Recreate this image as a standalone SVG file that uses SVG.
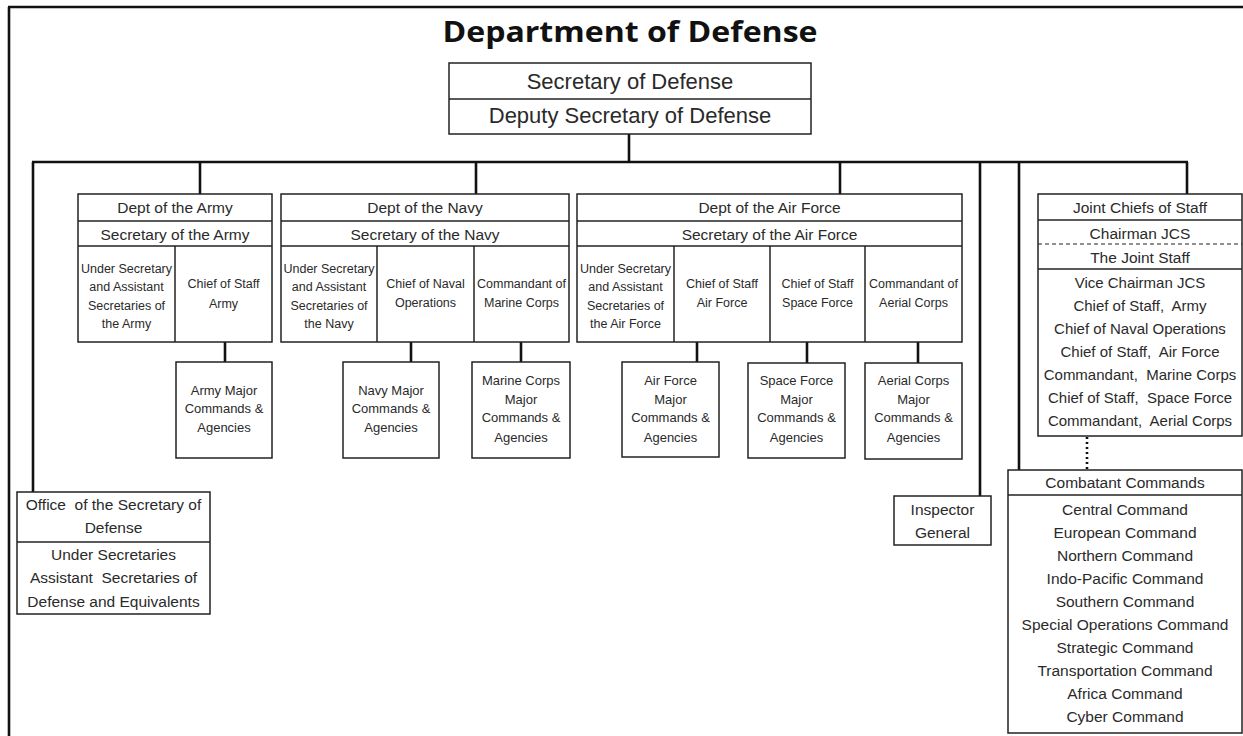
<svg xmlns="http://www.w3.org/2000/svg" width="1243" height="736" viewBox="0 0 1243 736">
<style>
  text { font-family: "Liberation Sans", Arial, sans-serif; fill: #2a2a2a; text-anchor: middle; white-space: pre; }
  .title { font-family: "Open Sans", "Liberation Sans", sans-serif; font-weight: 700; font-size: 29px; fill: #111; }
  .big { font-size: 22px; }
  .hd { font-size: 15.5px; }
  .sm { font-size: 12.5px; }
  .mc { font-size: 13px; }
  .ls { font-size: 15.5px; }
  .jl { font-size: 15px; }
  .box { fill: #fff; stroke: #222; stroke-width: 1.5; }
  .div { stroke: #222; stroke-width: 1.5; fill: none; }
  .dash { stroke: #222; stroke-width: 1.2; stroke-dasharray: 4 3; fill: none; }
  .con { stroke: #111; stroke-width: 2.6; fill: none; }
  .dot { stroke: #111; stroke-width: 2.6; stroke-dasharray: 2 3; fill: none; }
</style>
<rect x="0" y="0" width="1243" height="736" fill="#fff"/>
<g id="frame">
  <line x1="8" y1="7" x2="1243" y2="7" class="con"/>
  <line x1="9" y1="7" x2="9" y2="736" class="con"/>
</g>
<text class="title" x="630" y="42" textLength="375" lengthAdjust="spacingAndGlyphs">Department of Defense</text>

<g id="connectors">
  <line x1="629" y1="134" x2="629" y2="162" class="con"/>
  <line x1="32" y1="162" x2="1188" y2="162" class="con"/>
  <line x1="33" y1="162" x2="33" y2="492" class="con"/>
  <line x1="200" y1="162" x2="200" y2="194" class="con"/>
  <line x1="476" y1="162" x2="476" y2="194" class="con"/>
  <line x1="840" y1="162" x2="840" y2="194" class="con"/>
  <line x1="980" y1="162" x2="980" y2="496" class="con"/>
  <line x1="1019" y1="162" x2="1019" y2="470" class="con"/>
  <line x1="1187" y1="162" x2="1187" y2="194" class="con"/>
  <line x1="225" y1="342" x2="225" y2="362" class="con"/>
  <line x1="411" y1="342" x2="411" y2="362" class="con"/>
  <line x1="521" y1="342" x2="521" y2="362" class="con"/>
  <line x1="697" y1="342" x2="697" y2="362" class="con"/>
  <line x1="807" y1="342" x2="807" y2="363" class="con"/>
  <line x1="918" y1="342" x2="918" y2="363" class="con"/>
  <line x1="1087" y1="437" x2="1087" y2="470" class="dot"/>
</g>

<g id="secdef">
  <rect x="449" y="63" width="362" height="71" class="box"/>
  <line x1="449" y1="99" x2="811" y2="99" class="div"/>
  <text class="big" x="630" y="89">Secretary of Defense</text>
  <text class="big" x="630" y="123">Deputy Secretary of Defense</text>
</g>

<g id="army">
  <rect x="78" y="194" width="194" height="148" class="box"/>
  <line x1="78" y1="221" x2="272" y2="221" class="div"/>
  <line x1="78" y1="246" x2="272" y2="246" class="div"/>
  <line x1="175" y1="246" x2="175" y2="342" class="div"/>
  <text class="hd" x="175" y="213">Dept of the Army</text>
  <text class="hd" x="175" y="240">Secretary of the Army</text>
  <text class="sm" x="126.5" y="273">Under Secretary</text>
  <text class="sm" x="126.5" y="291">and Assistant</text>
  <text class="sm" x="126.5" y="310">Secretaries of</text>
  <text class="sm" x="126.5" y="328">the Army</text>
  <text class="sm" x="223.5" y="288">Chief of Staff</text>
  <text class="sm" x="223.5" y="308">Army</text>
</g>
<g id="army-major">
  <rect x="176" y="362" width="96" height="96" class="box"/>
  <text class="mc" x="224" y="395">Army Major</text>
  <text class="mc" x="224" y="413">Commands &amp;</text>
  <text class="mc" x="224" y="432">Agencies</text>
</g>

<g id="navy">
  <rect x="281" y="194" width="288" height="148" class="box"/>
  <line x1="281" y1="221" x2="569" y2="221" class="div"/>
  <line x1="281" y1="246" x2="569" y2="246" class="div"/>
  <line x1="377" y1="246" x2="377" y2="342" class="div"/>
  <line x1="474" y1="246" x2="474" y2="342" class="div"/>
  <text class="hd" x="425" y="213">Dept of the Navy</text>
  <text class="hd" x="425" y="240">Secretary of the Navy</text>
  <text class="sm" x="329" y="273">Under Secretary</text>
  <text class="sm" x="329" y="291">and Assistant</text>
  <text class="sm" x="329" y="310">Secretaries of</text>
  <text class="sm" x="329" y="328">the Navy</text>
  <text class="sm" x="425.5" y="288">Chief of Naval</text>
  <text class="sm" x="425.5" y="307">Operations</text>
  <text class="sm" x="521.5" y="288">Commandant of</text>
  <text class="sm" x="521.5" y="307">Marine Corps</text>
</g>
<g id="navy-major">
  <rect x="343" y="362" width="96" height="96" class="box"/>
  <text class="mc" x="391" y="395">Navy Major</text>
  <text class="mc" x="391" y="413">Commands &amp;</text>
  <text class="mc" x="391" y="432">Agencies</text>
</g>
<g id="marine-major">
  <rect x="472" y="362" width="98" height="96" class="box"/>
  <text class="mc" x="521" y="385">Marine Corps</text>
  <text class="mc" x="521" y="404">Major</text>
  <text class="mc" x="521" y="422">Commands &amp;</text>
  <text class="mc" x="521" y="442">Agencies</text>
</g>

<g id="airforce">
  <rect x="577" y="194" width="385" height="148" class="box"/>
  <line x1="577" y1="221" x2="962" y2="221" class="div"/>
  <line x1="577" y1="246" x2="962" y2="246" class="div"/>
  <line x1="674" y1="246" x2="674" y2="342" class="div"/>
  <line x1="770" y1="246" x2="770" y2="342" class="div"/>
  <line x1="865" y1="246" x2="865" y2="342" class="div"/>
  <text class="hd" x="769.5" y="213">Dept of the Air Force</text>
  <text class="hd" x="769.5" y="240">Secretary of the Air Force</text>
  <text class="sm" x="625.5" y="273">Under Secretary</text>
  <text class="sm" x="625.5" y="291">and Assistant</text>
  <text class="sm" x="625.5" y="310">Secretaries of</text>
  <text class="sm" x="625.5" y="328">the Air Force</text>
  <text class="sm" x="722" y="288">Chief of Staff</text>
  <text class="sm" x="722" y="307">Air Force</text>
  <text class="sm" x="817.5" y="288">Chief of Staff</text>
  <text class="sm" x="817.5" y="307">Space Force</text>
  <text class="sm" x="913.5" y="288">Commandant of</text>
  <text class="sm" x="913.5" y="307">Aerial Corps</text>
</g>
<g id="af-major">
  <rect x="622" y="362" width="97" height="95" class="box"/>
  <text class="mc" x="670.5" y="385">Air Force</text>
  <text class="mc" x="670.5" y="404">Major</text>
  <text class="mc" x="670.5" y="422">Commands &amp;</text>
  <text class="mc" x="670.5" y="442">Agencies</text>
</g>
<g id="sf-major">
  <rect x="748" y="363" width="97" height="95" class="box"/>
  <text class="mc" x="796.5" y="385">Space Force</text>
  <text class="mc" x="796.5" y="404">Major</text>
  <text class="mc" x="796.5" y="422">Commands &amp;</text>
  <text class="mc" x="796.5" y="442">Agencies</text>
</g>
<g id="aerial-major">
  <rect x="865" y="363" width="97" height="96" class="box"/>
  <text class="mc" x="913.5" y="385">Aerial Corps</text>
  <text class="mc" x="913.5" y="404">Major</text>
  <text class="mc" x="913.5" y="422">Commands &amp;</text>
  <text class="mc" x="913.5" y="442">Agencies</text>
</g>

<g id="jcs">
  <rect x="1038" y="194" width="204" height="242" class="box"/>
  <line x1="1038" y1="220" x2="1242" y2="220" class="div"/>
  <line x1="1038" y1="244" x2="1242" y2="244" class="dash"/>
  <line x1="1038" y1="269" x2="1242" y2="269" class="div"/>
  <text class="hd" x="1140" y="213">Joint Chiefs of Staff</text>
  <text class="hd" x="1140" y="239">Chairman JCS</text>
  <text class="hd" x="1140" y="263">The Joint Staff</text>
  <text class="jl" x="1140" y="288">Vice Chairman JCS</text>
  <text class="jl" x="1140" y="311">Chief of Staff,  Army</text>
  <text class="jl" x="1140" y="334">Chief of Naval Operations</text>
  <text class="jl" x="1140" y="357">Chief of Staff,  Air Force</text>
  <text class="jl" x="1140" y="380">Commandant,  Marine Corps</text>
  <text class="jl" x="1140" y="403">Chief of Staff,  Space Force</text>
  <text class="jl" x="1140" y="426">Commandant,  Aerial Corps</text>
</g>

<g id="osd">
  <rect x="17" y="492" width="193" height="122" class="box"/>
  <line x1="17" y1="542" x2="210" y2="542" class="div"/>
  <text class="ls" x="113.5" y="510">Office  of the Secretary of</text>
  <text class="ls" x="113.5" y="533">Defense</text>
  <text class="ls" x="113.5" y="560">Under Secretaries</text>
  <text class="ls" x="113.5" y="583">Assistant  Secretaries of</text>
  <text class="ls" x="113.5" y="607">Defense and Equivalents</text>
</g>

<g id="ig">
  <rect x="894" y="496" width="97" height="49" class="box"/>
  <text class="ls" x="942.5" y="515">Inspector</text>
  <text class="ls" x="942.5" y="538">General</text>
</g>

<g id="combatant">
  <rect x="1008" y="470" width="234" height="263" class="box"/>
  <line x1="1008" y1="495" x2="1242" y2="495" class="div"/>
  <text class="hd" x="1125" y="488">Combatant Commands</text>
  <text class="ls" x="1125" y="515">Central Command</text>
  <text class="ls" x="1125" y="538">European Command</text>
  <text class="ls" x="1125" y="561">Northern Command</text>
  <text class="ls" x="1125" y="584">Indo-Pacific Command</text>
  <text class="ls" x="1125" y="607">Southern Command</text>
  <text class="ls" x="1125" y="630">Special Operations Command</text>
  <text class="ls" x="1125" y="653">Strategic Command</text>
  <text class="ls" x="1125" y="676">Transportation Command</text>
  <text class="ls" x="1125" y="699">Africa Command</text>
  <text class="ls" x="1125" y="722">Cyber Command</text>
</g>
</svg>
